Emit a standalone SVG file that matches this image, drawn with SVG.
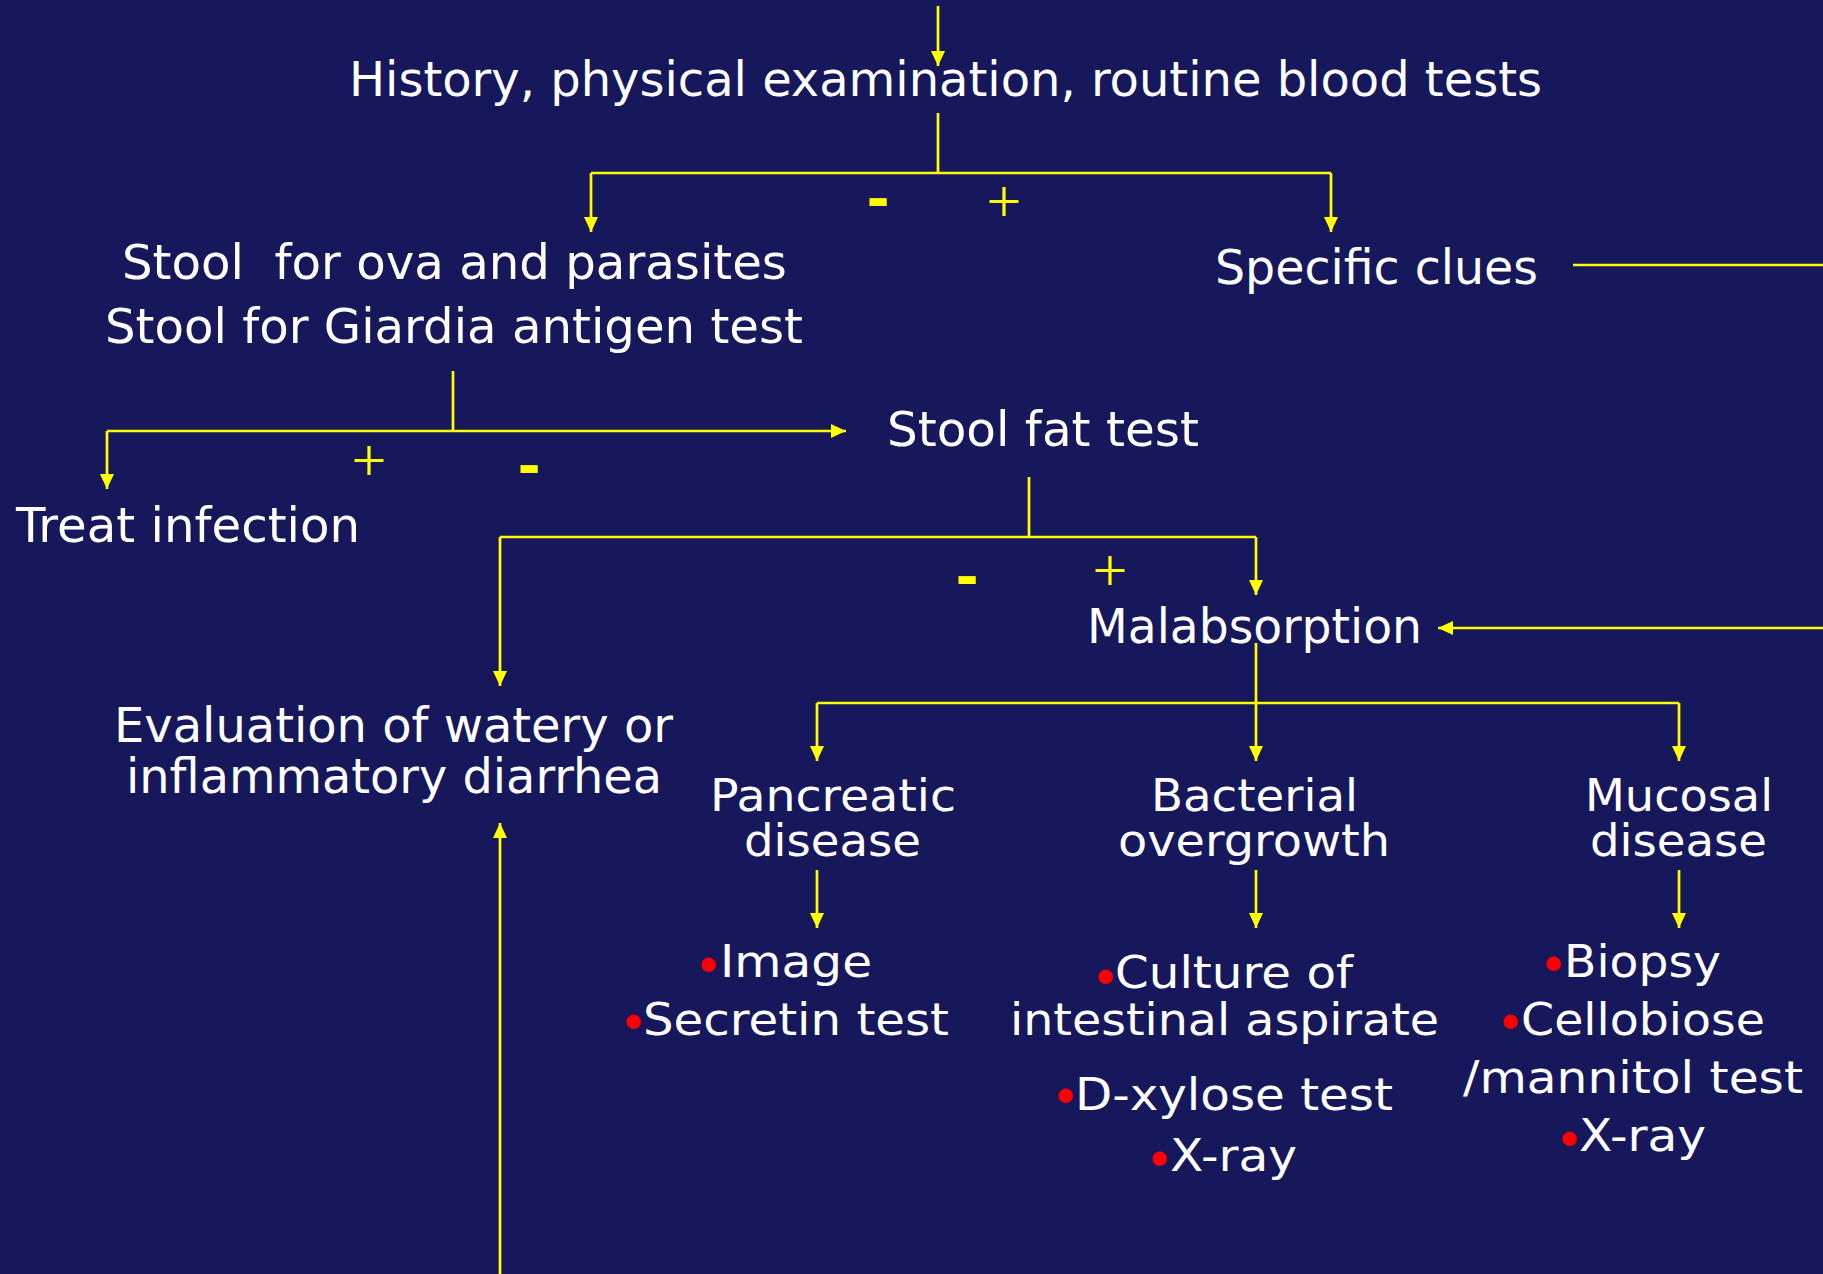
<svg xmlns="http://www.w3.org/2000/svg" width="1823" height="1274" viewBox="0 0 1823 1274">
<defs>
<marker id="ah" markerWidth="15" markerHeight="15" refX="15" refY="7.5" orient="auto" markerUnits="userSpaceOnUse">
<path d="M0,0.5 L15,7.5 L0,14.5 Z" fill="#FFFF00"/>
</marker>
<style>
.t{font-family:"DejaVu Sans","Verdana",sans-serif;font-size:48px;fill:#FFFFFF;white-space:pre}
.s{font-size:44px}
.c{stroke:#FFFF00;stroke-width:2.7;fill:none}
.a{marker-end:url(#ah)}
.plus{font-family:"Liberation Serif",serif;font-size:62px;fill:#FFFF00;text-anchor:middle}
.minus{font-family:"DejaVu Sans",sans-serif;font-weight:bold;font-size:56px;fill:#FFFF00;text-anchor:middle}
.bul{fill:#FF0000;font-size:50px}
</style>
</defs>
<rect width="1823" height="1274" fill="#17175B"/>
<g id="connectors">
<path class="c a" d="M938,6 V66"/>
<path class="c" d="M938,113 V173 M591,173 H1331"/>
<path class="c a" d="M591,173 V232"/>
<path class="c a" d="M1331,173 V232"/>
<path class="c" d="M453,371 V431 M107,431 H453"/>
<path class="c a" d="M453,431 H846"/>
<path class="c a" d="M107,431 V489"/>
<path class="c" d="M1029,477 V537 M500,537 H1256"/>
<path class="c a" d="M500,537 V686"/>
<path class="c a" d="M1256,537 V595"/>
<path class="c" d="M1573,265 H1823"/>
<path class="c a" d="M1823,628 H1438"/>
<path class="c a" d="M500,1274 V823"/>
<path class="c" d="M1256,643 V703 M817,703 H1679"/>
<path class="c a" d="M817,703 V761"/>
<path class="c a" d="M1256,703 V761"/>
<path class="c a" d="M1679,703 V761"/>
<path class="c a" d="M817,870 V928"/>
<path class="c a" d="M1256,870 V928"/>
<path class="c a" d="M1679,870 V928"/>
<text class="minus" x="878" y="218">-</text>
<text class="plus" x="1004" y="222">+</text>
<text class="plus" x="369" y="481">+</text>
<text class="minus" x="529" y="485">-</text>
<text class="minus" x="967" y="596">-</text>
<text class="plus" x="1110" y="591">+</text>
</g>
<g id="n-history"><text class="t" x="349" y="96" textLength="1193" lengthAdjust="spacingAndGlyphs">History, physical examination, routine blood tests</text></g>
<g id="n-stool">
<text class="t" x="122" y="279" textLength="665" lengthAdjust="spacingAndGlyphs">Stool  for ova and parasites</text>
<text class="t" x="105" y="343" textLength="698" lengthAdjust="spacingAndGlyphs">Stool for Giardia antigen test</text>
</g>
<g id="n-specific"><text class="t" x="1215" y="284" textLength="323" lengthAdjust="spacingAndGlyphs">Specific clues</text></g>
<g id="n-treat"><text class="t" x="16" y="542" textLength="344" lengthAdjust="spacingAndGlyphs">Treat infection</text></g>
<g id="n-fat"><text class="t" x="887" y="446" textLength="312" lengthAdjust="spacingAndGlyphs">Stool fat test</text></g>
<g id="n-malabs"><text class="t" x="1087" y="643" textLength="335" lengthAdjust="spacingAndGlyphs">Malabsorption</text></g>
<g id="n-eval">
<text class="t" x="114" y="742" textLength="559" lengthAdjust="spacingAndGlyphs">Evaluation of watery or</text>
<text class="t" x="126" y="793" textLength="536" lengthAdjust="spacingAndGlyphs">inflammatory diarrhea</text>
</g>
<g id="n-pancreatic">
<text class="t s" x="710" y="811" textLength="246" lengthAdjust="spacingAndGlyphs">Pancreatic</text>
<text class="t s" x="744" y="856" textLength="177" lengthAdjust="spacingAndGlyphs">disease</text>
</g>
<g id="n-bacterial">
<text class="t s" x="1151" y="811" textLength="207" lengthAdjust="spacingAndGlyphs">Bacterial</text>
<text class="t s" x="1118" y="856" textLength="272" lengthAdjust="spacingAndGlyphs">overgrowth</text>
</g>
<g id="n-mucosal">
<text class="t s" x="1585" y="811" textLength="188" lengthAdjust="spacingAndGlyphs">Mucosal</text>
<text class="t s" x="1590" y="856" textLength="177" lengthAdjust="spacingAndGlyphs">disease</text>
</g>
<g id="n-pancreatic-tests">
<text class="t s"><tspan class="bul" x="694" y="983">•</tspan><tspan x="720" y="977" textLength="152" lengthAdjust="spacingAndGlyphs">Image</tspan></text>
<text class="t s"><tspan class="bul" x="619" y="1040">•</tspan><tspan x="643" y="1035" textLength="306" lengthAdjust="spacingAndGlyphs">Secretin test</tspan></text>
</g>
<g id="n-bacterial-tests">
<text class="t s"><tspan class="bul" x="1091" y="995">•</tspan><tspan x="1115" y="988" textLength="238" lengthAdjust="spacingAndGlyphs">Culture of</tspan></text>
<text class="t s" x="1010" y="1035" textLength="429" lengthAdjust="spacingAndGlyphs">intestinal aspirate</text>
<text class="t s"><tspan class="bul" x="1051" y="1114">•</tspan><tspan x="1075" y="1110" textLength="318" lengthAdjust="spacingAndGlyphs">D-xylose test</tspan></text>
<text class="t s"><tspan class="bul" x="1145" y="1177">•</tspan><tspan x="1170" y="1171" textLength="127" lengthAdjust="spacingAndGlyphs">X-ray</tspan></text>
</g>
<g id="n-mucosal-tests">
<text class="t s"><tspan class="bul" x="1539" y="982">•</tspan><tspan x="1564" y="977" textLength="157" lengthAdjust="spacingAndGlyphs">Biopsy</tspan></text>
<text class="t s"><tspan class="bul" x="1496" y="1040">•</tspan><tspan x="1521" y="1035" textLength="244" lengthAdjust="spacingAndGlyphs">Cellobiose</tspan></text>
<text class="t s" x="1463" y="1093" textLength="340" lengthAdjust="spacingAndGlyphs">/mannitol test</text>
<text class="t s"><tspan class="bul" x="1555" y="1157">•</tspan><tspan x="1579" y="1151" textLength="127" lengthAdjust="spacingAndGlyphs">X-ray</tspan></text>
</g>
</svg>
